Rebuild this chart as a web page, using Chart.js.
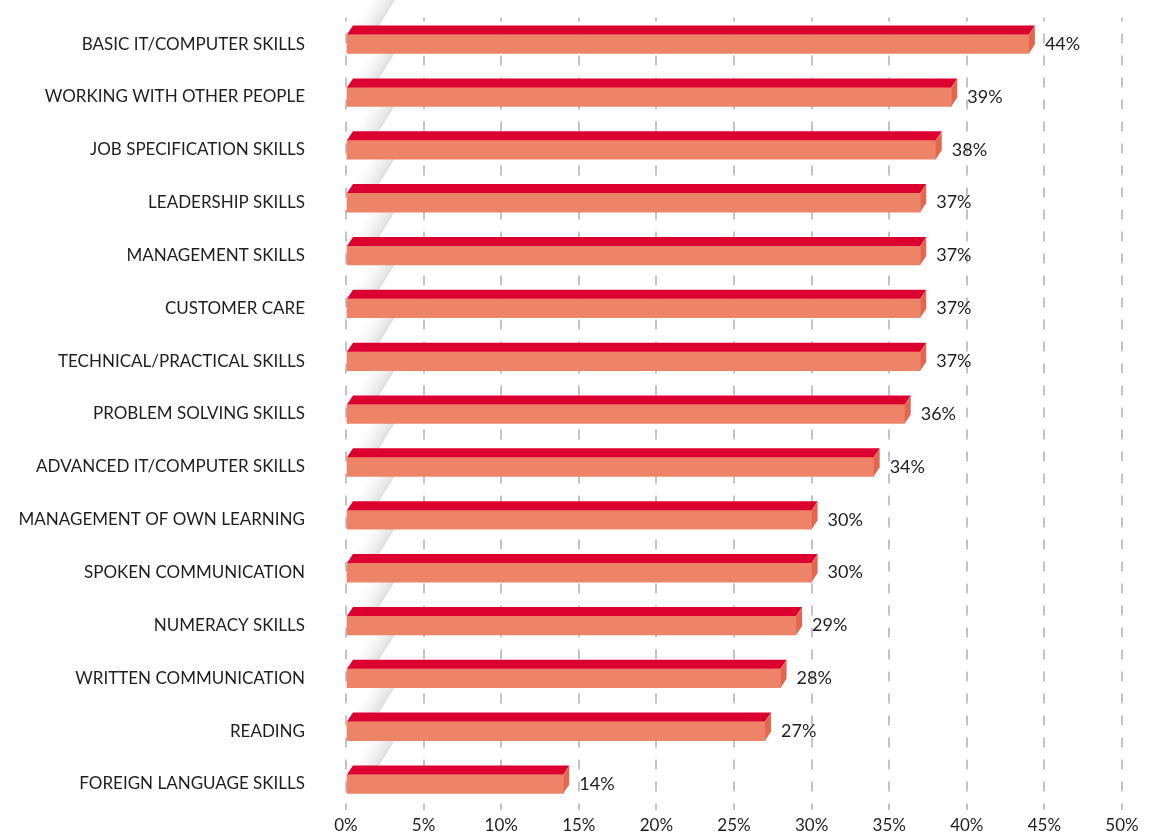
<!DOCTYPE html>
<html>
<head>
<meta charset="utf-8">
<title>Skills</title>
<script src="https://cdn.jsdelivr.net/npm/chart.js@4.4.1/dist/chart.umd.min.js"></script>
<style>
  html, body { margin: 0; padding: 0; background: #fff; }
  #wrap { width: 1152px; height: 838px; position: relative; }
</style>
</head>
<body>
<div id="wrap"><canvas id="skills-chart"></canvas></div>
<script>
// skills and the share of respondents naming each one (%)
const skills = [
  'BASIC IT/COMPUTER SKILLS',
  'WORKING WITH OTHER PEOPLE',
  'JOB SPECIFICATION SKILLS',
  'LEADERSHIP SKILLS',
  'MANAGEMENT SKILLS',
  'CUSTOMER CARE',
  'TECHNICAL/PRACTICAL SKILLS',
  'PROBLEM SOLVING SKILLS',
  'ADVANCED IT/COMPUTER SKILLS',
  'MANAGEMENT OF OWN LEARNING',
  'SPOKEN COMMUNICATION',
  'NUMERACY SKILLS',
  'WRITTEN COMMUNICATION',
  'READING',
  'FOREIGN LANGUAGE SKILLS'
];
const shares = [44, 39, 38, 37, 37, 37, 37, 36, 34, 30, 30, 29, 28, 27, 14];
const axisMin = 0;
const axisMax = 50;
const axisStep = 5;

const FRONT_COLOR = '#EE8467';
const TOP_COLOR = '#DC0030';
const SIDE_COLOR = '#E5654D';
const DEPTH_X = 6;
const DEPTH_Y = 9;
const FONT = 'Lato, "Open Sans", sans-serif';

// fake 3D: shading wedge behind each bar, then top and right faces + value
const bar3d = {
  id: 'bar3d',
  beforeDatasetsDraw(chart) {
    const ctx = chart.ctx;
    const meta = chart.getDatasetMeta(0);
    const slope = 0.62;   // horizontal run per pixel of rise
    const width = 26;     // horizontal width of the wedge
    const rise = 36;
    ctx.save();
    meta.data.forEach(el => {
      const p = el.getProps(['x', 'y', 'base', 'height'], true);
      const x0 = p.base + DEPTH_X;
      const y0 = p.y - p.height / 2 - DEPTH_Y;
      // gradient runs across the slanted wedge
      const norm = Math.sqrt(1 + slope * slope);
      const dist = width / norm;
      const grad = ctx.createLinearGradient(x0, y0, x0 + dist / norm, y0 + dist * slope / norm);
      grad.addColorStop(0, 'rgba(235,235,235,0)');
      grad.addColorStop(0.85, 'rgba(220,220,220,0.7)');
      grad.addColorStop(1, 'rgba(212,212,212,0.8)');
      ctx.fillStyle = grad;
      ctx.beginPath();
      ctx.moveTo(x0 - DEPTH_X, y0 + DEPTH_Y);
      ctx.lineTo(x0 + width, y0);
      ctx.lineTo(x0 + width + slope * rise, y0 - rise);
      ctx.lineTo(x0 + slope * rise, y0 - rise);
      ctx.lineTo(x0, y0);
      ctx.closePath();
      ctx.fill();
    });
    ctx.restore();
  },
  afterDatasetsDraw(chart) {
    const ctx = chart.ctx;
    const meta = chart.getDatasetMeta(0);
    ctx.save();
    meta.data.forEach((el, i) => {
      const p = el.getProps(['x', 'y', 'base', 'height'], true);
      const top = p.y - p.height / 2;
      const bottom = p.y + p.height / 2;

      ctx.fillStyle = TOP_COLOR;
      ctx.beginPath();
      ctx.moveTo(p.base, top);
      ctx.lineTo(p.x, top);
      ctx.lineTo(p.x + DEPTH_X, top - DEPTH_Y);
      ctx.lineTo(p.base + DEPTH_X, top - DEPTH_Y);
      ctx.closePath();
      ctx.fill();

      ctx.fillStyle = SIDE_COLOR;
      ctx.beginPath();
      ctx.moveTo(p.x, top);
      ctx.lineTo(p.x + DEPTH_X, top - DEPTH_Y);
      ctx.lineTo(p.x + DEPTH_X, bottom - DEPTH_Y);
      ctx.lineTo(p.x, bottom);
      ctx.closePath();
      ctx.fill();

      ctx.fillStyle = '#1e1e1e';
      ctx.font = '18px ' + FONT;
      ctx.textAlign = 'left';
      ctx.textBaseline = 'middle';
      ctx.fillText(shares[i] + '%', p.x + DEPTH_X + 10, p.y);
    });
    ctx.restore();
  }
};

new Chart(document.getElementById('skills-chart'), {
  type: 'bar',
  data: {
    labels: skills,
    datasets: [{
      data: shares,
      backgroundColor: FRONT_COLOR,
      borderWidth: 0,
      barThickness: 19
    }]
  },
  options: {
    indexAxis: 'y',
    responsive: true,
    maintainAspectRatio: false,
    animation: false,
    layout: { padding: { top: 17.6, right: 30, left: 0, bottom: 0 } },
    plugins: {
      legend: { display: false },
      tooltip: { enabled: false }
    },
    scales: {
      x: {
        min: axisMin,
        max: axisMax,
        grid: { color: '#c4c4c4', lineWidth: 2, drawTicks: false },
        border: { display: false, dash: [10, 12], dashOffset: 6 },
        ticks: {
          stepSize: axisStep,
          padding: 5,
          color: '#1e1e1e',
          font: { family: FONT, size: 17 },
          callback: v => v + '%'
        },
        afterFit(scale) { scale.height = 27.6; }
      },
      y: {
        grid: { display: false, drawTicks: false },
        border: { display: false },
        ticks: {
          padding: 41,
          color: '#1e1e1e',
          font: { family: FONT, size: 17 }
        },
        afterFit(scale) {
          scale.width = 346;
          // the label gap should not eat vertical room
          scale.paddingTop = 0;
          scale.paddingBottom = 0;
        }
      }
    }
  },
  plugins: [bar3d]
});
</script>
</body>
</html>
